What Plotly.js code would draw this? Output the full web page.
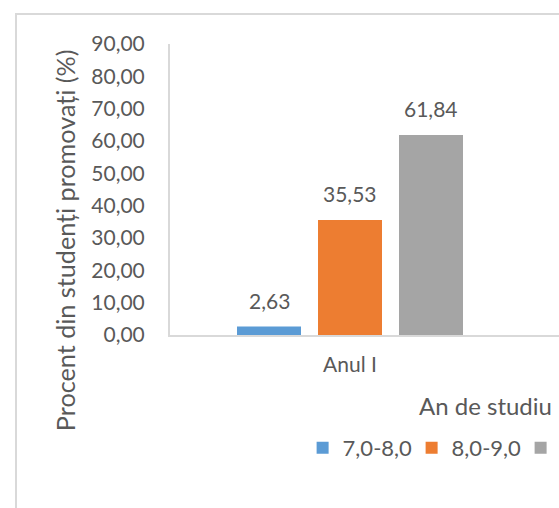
<!DOCTYPE html>
<html>
<head>
<meta charset="utf-8">
<script src="https://cdn.plot.ly/plotly-3.0.1.min.js"></script>
<style>
  html, body { margin: 0; padding: 0; overflow: hidden; background: #fff; width: 559px; height: 508px; }
  #frame { position: absolute; left: 15px; top: 13px; border: 2px solid #d9d9d9; }
</style>
</head>
<body>
<div id="frame"><div id="chart"></div></div>
<script>
// ---- data ----
const categories = ["Anul I"];
const seriesNames = ["7,0-8,0", "8,0-9,0", "9,0-10,0"];
const series1 = [2.63];
const series2 = [35.53];
const series3 = [61.84];
const seriesValues = [series1, series2, series3];
const yTitle = "Procent din studenți promovați (%)";
const xTitle = "An de studiu";

// ---- styles ----
const colors = ["#5b9bd5", "#ed7d31", "#a5a5a5"];
const FONT = "Lato, 'Open Sans', sans-serif";
const TXT = "#595959";
const bargap = 0.325;
const bargroupgap = 0.21;

const traces = seriesValues.map((vals, i) => ({
  type: "bar",
  name: seriesNames[i],
  x: categories,
  y: vals,
  marker: { color: colors[i] },
  hoverinfo: "skip"
}));

const fmt = v => v.toFixed(2).replace(".", ",");
const slot = (1 - bargap) / seriesValues.length;
const annotations = [];
seriesValues.forEach((vals, i) => {
  vals.forEach((v, c) => {
    annotations.push({
      x: c + (i - (seriesValues.length - 1) / 2) * slot,
      y: v, xref: "x", yref: "y",
      text: fmt(v), showarrow: false,
      xanchor: "center", yanchor: "bottom", yshift: 12,
      font: { family: FONT, size: 21, color: TXT }
    });
  });
});
// axis titles
annotations.push({
  xref: "paper", yref: "paper", x: 0, y: 0.326, xshift: -105,
  text: yTitle, textangle: -90, showarrow: false,
  xanchor: "center", yanchor: "middle",
  font: { family: FONT, size: 25.2, color: TXT }
});
annotations.push({
  xref: "paper", yref: "paper", x: 0.5, y: 0, yshift: -54,
  text: xTitle, showarrow: false,
  xanchor: "center", yanchor: "top",
  font: { family: FONT, size: 24, color: TXT }
});

const layout = {
  width: 920, height: 520,
  margin: { l: 153, r: 137, t: 29, b: 200 },
  paper_bgcolor: "#ffffff", plot_bgcolor: "#ffffff",
  separators: ",.",
  barmode: "group", bargap: bargap, bargroupgap: bargroupgap,
  font: { family: FONT, size: 21, color: TXT },
  showlegend: true,
  legend: {
    orientation: "h", x: 0.2105, xanchor: "left", y: -0.388, yanchor: "middle",
    font: { family: FONT, size: 22, color: TXT },
    entrywidth: 64, traceorder: "normal"
  },
  xaxis: {
    type: "category", range: [-0.5, 1.25],
    showline: true, linecolor: "#d9d9d9", linewidth: 2,
    showgrid: false, zeroline: false,
    ticks: "outside", ticklen: 10, tickcolor: "rgba(0,0,0,0)",
    tickfont: { family: FONT, size: 21, color: TXT }
  },
  yaxis: {
    range: [0, 90], dtick: 10, tickformat: ".2f",
    showline: true, linecolor: "#d9d9d9", linewidth: 2,
    showgrid: false, zeroline: false,
    ticks: "outside", ticklen: 19, tickcolor: "rgba(0,0,0,0)",
    tickfont: { family: FONT, size: 21, color: TXT }
  },
  annotations: annotations
};

Plotly.newPlot("chart", traces, layout, { staticPlot: true, displayModeBar: false });
</script>
</body>
</html>
